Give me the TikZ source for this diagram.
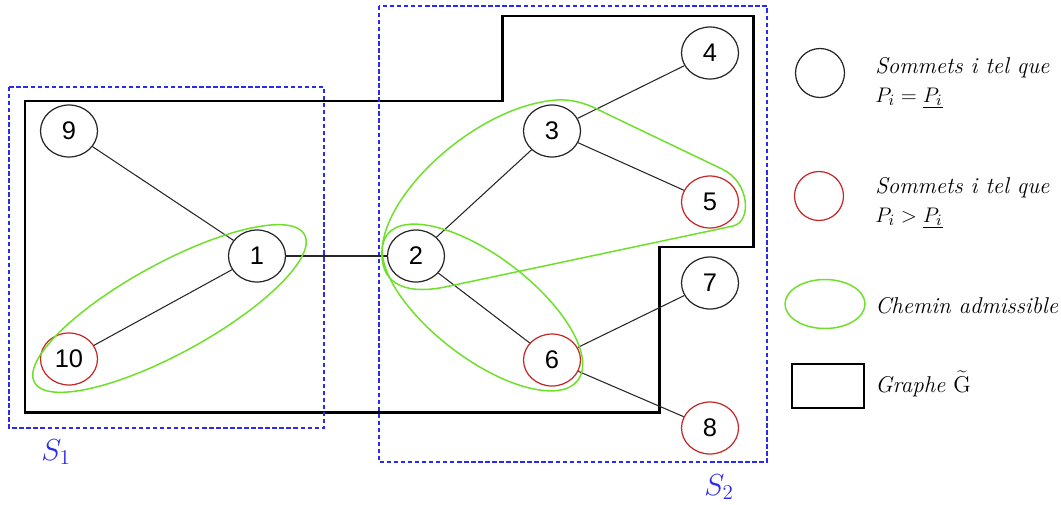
\documentclass[tikz,border=0pt]{standalone}
\usepackage{fontspec}
\newfontfamily\numfont{Liberation Sans}
\usetikzlibrary{shapes.geometric}
\definecolor{redc}{HTML}{C62828}
\definecolor{greenc}{HTML}{6EE02A}
\definecolor{bluec}{HTML}{2A2AF0}
\begin{document}
\begin{tikzpicture}[x=0.02cm,y=-0.02cm,
  vtx/.style={ellipse,draw=black!85,line width=0.7pt,minimum width=1.14cm,minimum height=1.04cm,inner sep=0pt,font=\numfont\fontsize{14.5}{14.5}\selectfont},
  redvtx/.style={vtx,draw=redc},
  edge/.style={draw=black!85,line width=0.6pt},
  graphG/.style={draw=black,line width=1.7pt},
  setbox/.style={draw=bluec,line width=0.75pt,dash pattern=on 2.5pt off 1.5pt},
  path/.style={draw=greenc,line width=0.85pt},
  legtext/.style={anchor=base west,inner sep=0pt,font=\itshape\fontsize{13}{15}\selectfont},
  setlabel/.style={text=bluec,font=\fontsize{18}{20}\selectfont,inner sep=0pt}
]
\useasboundingbox (0,0) rectangle (1061,504);
% graph G tilde
\draw[graphG] (25,101) -- (502,101) -- (502,16) -- (753,16) -- (753,247) -- (659,247) -- (659,412) -- (25,412) -- cycle;
% sets
\draw[setbox] (9,87) rectangle (324,428);
\draw[setbox] (379,6) rectangle (767,462);
\node[setlabel] (s1) at (56,452) {$S_1$};
\node[setlabel] (s2) at (719,487) {$S_2$};
% vertices
\node[vtx] (n9) at (69,131) {9};
\node[vtx] (n1) at (257,256) {1};
\node[redvtx] (n10) at (69,359) {10};
\node[vtx] (n2) at (416,256) {2};
\node[vtx] (n3) at (552,131) {3};
\node[vtx] (n4) at (710,53) {4};
\node[redvtx] (n5) at (710,202) {5};
\node[redvtx] (n6) at (552,360) {6};
\node[vtx] (n7) at (710,283) {7};
\node[redvtx] (n8) at (710,428) {8};
% edges
\draw[edge] (n9) -- (n1);
\draw[edge] (n1) -- (n10);
\draw[edge] (n1) -- (n2);
\draw[edge] (n2) -- (n3);
\draw[edge] (n2) -- (n6);
\draw[edge] (n3) -- (n4);
\draw[edge] (n3) -- (n5);
\draw[edge] (n6) -- (n7);
\draw[edge] (n6) -- (n8);
% admissible paths
\draw[path,rotate around={28.7:(169.5,308.5)}] (169.5,308.5) ellipse [x radius=3.08cm, y radius=0.9cm];
\draw[path,rotate around={-37.4:(482.5,307.5)}] (482.5,307.5) ellipse [x radius=2.4cm, y radius=1.02cm];
\draw[path] (733,226) -- (445,287) .. controls (400,296) and (380,280) .. (382,250)
  .. controls (385,190) and (480,105) .. (557,100)
  .. controls (575,99) and (590,105) .. (605,113) -- (722,169)
  .. controls (750,182) and (752,222) .. (733,226) -- cycle;
% legend
\node[vtx,minimum width=0.98cm,minimum height=0.98cm] (l1) at (820,73) {};
\node[legtext] (t1a) at (875,73) {Sommets i tel que};
\node[legtext] (t1b) at (875,102) {$P_i = \underline{P_i}$};
\node[redvtx,minimum width=0.98cm,minimum height=0.98cm] (l2) at (819,196) {};
\node[legtext] (t2a) at (875,193) {Sommets i tel que};
\node[legtext] (t2b) at (875,222) {$P_i > \underline{P_i}$};
\node[ellipse,path,minimum width=1.6cm,minimum height=0.98cm,inner sep=0pt] (l3) at (825,304) {};
\node[legtext] (t3) at (875,313) {Chemin admissible};
\node[draw=black,line width=1.1pt,minimum width=1.44cm,minimum height=0.88cm,inner sep=0pt] (l4) at (828,386) {};
\node[legtext] (t4) at (875,392) {Graphe\ $\widetilde{\mathrm{G}}$};
\end{tikzpicture}
\end{document}
